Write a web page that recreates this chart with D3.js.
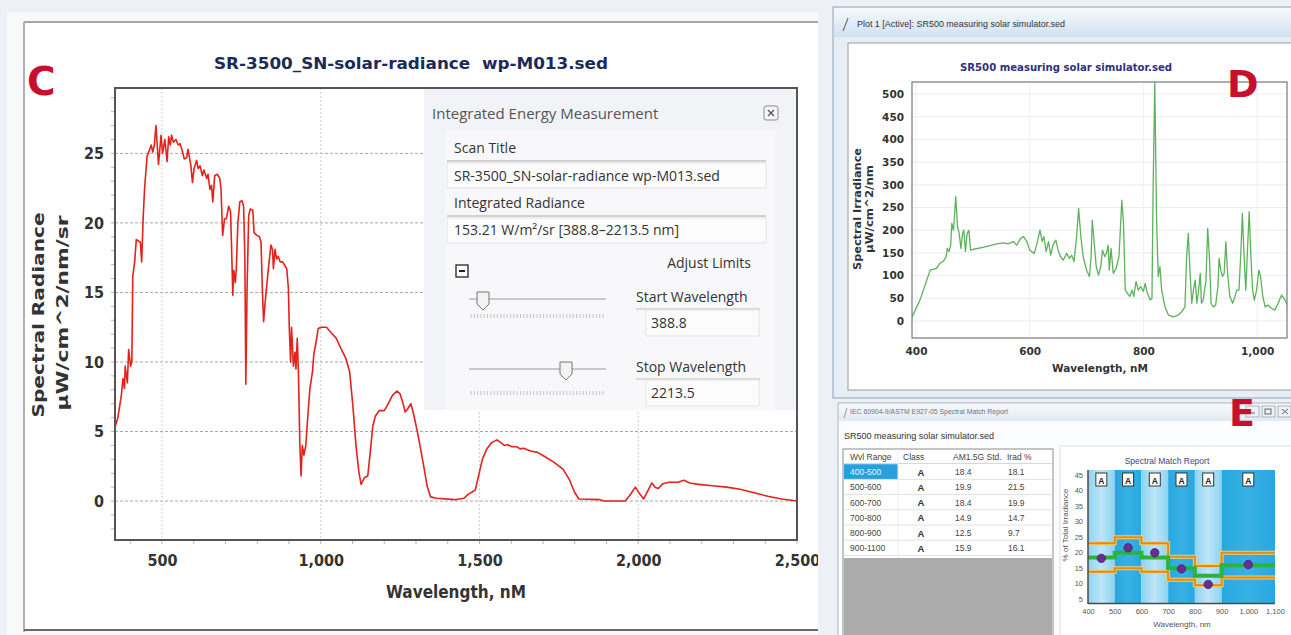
<!DOCTYPE html>
<html><head><meta charset="utf-8">
<script src="https://cdn.jsdelivr.net/npm/d3@7/dist/d3.min.js"></script>
<style>body{margin:0;background:#edf0f5;overflow:hidden} svg{display:block}</style>
</head><body><svg id="c" width="1291" height="635"></svg>
<script>
// ================= DATA =================
// Panel C : SR-3500 solar radiance
const wlC = [352,361,372,377,382,384,391,395,401,405,408,414,419,426,432,436,441,445,453,460,466,471,476,481,489,497,502,509,516,521,526,530,536,544,551,557,565,570,578,582,591,596,601,609,614,620,627,632,641,645,651,656,660,666,674,682,686,691,697,703,710,716,719,723,726,731,734,739,745,752,757,761,764,768,773,778,786,790,799,807,812,816,820,825,830,835,843,848,851,856,861,866,872,880,888,893,898,901,905,908,914,919,922,926,930,934,938,942,947,953,958,966,974,978,985,992,1002,1018,1033,1049,1065,1080,1091,1101,1111,1120,1127,1138,1148,1155,1164,1172,1184,1200,1210,1226,1240,1250,1257,1266,1273,1284,1294,1305,1315,1326,1335,1346,1364,1422,1451,1465,1477,1487,1497,1509,1523,1538,1555,1567,1578,1589,1603,1618,1628,1639,1661,1683,1705,1734,1763,1784,1799,1813,1879,1893,1959,1973,1991,2005,2017,2028,2043,2053,2063,2078,2096,2125,2144,2162,2190,2234,2278,2321,2365,2408,2452,2500];
const radC = [5.3,6.0,7.6,8.8,8.1,9.7,8.5,10.9,9.7,10.0,16.2,17.2,18.8,18.7,18.6,17.2,20.5,22.4,24.8,25.2,25.6,25.1,25.6,27.0,24.2,26.3,25.0,26.0,24.4,26.2,25.6,26.3,25.8,26.0,25.6,25.7,25.1,24.6,24.7,25.3,24.1,22.9,23.9,24.5,23.9,24.1,23.4,23.8,23.2,23.5,22.4,22.7,21.5,23.4,23.5,23.2,22.4,19.1,20.3,20.3,21.2,20.8,18.4,14.8,16.6,15.7,16.7,20.0,21.5,21.6,21.2,17.6,8.4,15.3,20.5,21.0,20.9,19.3,19.1,19.0,18.6,15.3,12.9,14.3,15.5,16.7,18.4,18.1,16.7,18.1,17.4,17.6,17.2,17.2,16.9,16.7,15.3,12.4,10.0,12.5,9.7,10.7,9.5,11.7,9.0,4.2,1.8,4.0,3.3,4.0,5.7,8.1,9.3,10.5,11.4,12.4,12.5,12.5,12.1,11.7,10.9,10.2,9.3,6.9,4.0,2.1,1.2,1.7,1.8,3.3,5.4,6.1,6.5,6.5,6.9,7.6,7.9,7.7,7.2,6.4,6.6,7.0,6.1,4.9,3.7,2.3,1.1,0.3,0.2,0.1,0.2,0.5,0.65,0.8,1.8,3.0,3.75,4.2,4.4,4.2,4.0,4.05,3.9,3.9,3.75,3.8,3.6,3.5,3.2,2.8,2.3,1.5,0.65,0.15,0.1,0.0,0.0,0.4,1.0,0.5,0.15,0.65,1.3,1.0,0.9,1.25,1.35,1.35,1.5,1.3,1.2,1.1,1.0,0.85,0.6,0.35,0.15,0.0];
const yTicksC = [0,5,10,15,20,25];
const xTicksC = [500,1000,1500,2000,2500];
const titleC = "SR-3500_SN-solar-radiance  wp-M013.sed";
const scanTitle = "SR-3500_SN-solar-radiance wp-M013.sed";
const integratedText = "153.21 W/m\u00B2/sr [388.8\u20132213.5 nm]";
const startWl = "388.8", stopWl = "2213.5";

// Panel D : SR500 measuring solar simulator
const wlD = [392,407,422,425,436,442,448,453,455,458,461,463,466,468,470,473,476,479,482,484,487,490,493,496,501,518,542,554,562,571,577,584,589,595,600,608,613,618,622,625,629,633,637,641,646,650,654,659,665,670,674,678,683,686,690,694,700,705,708,710,713,717,721,725,728,732,735,738,740,743,747,752,757,760,762,765,768,772,776,780,783,787,791,795,800,803,807,812,815,817,820,823,826,829,832,838,844,853,861,867,873,876,879,882,885,888,891,894,897,900,902,905,910,913,916,919,923,927,931,933,936,939,942,945,948,952,957,961,964,968,971,974,977,980,983,986,989,992,995,999,1003,1006,1010,1014,1019,1025,1031,1037,1043,1049,1053];
const irrD = [6,46,101,112,116,127,131,142,160,153,167,215,200,237,274,208,193,160,193,200,153,193,200,156,158,162,170,172,170,175,167,182,186,175,156,149,171,200,175,186,153,175,145,167,178,156,142,134,149,138,145,131,193,248,186,142,112,98,142,222,178,120,101,120,156,142,149,167,112,160,105,116,142,215,266,215,68,61,54,68,54,87,68,76,65,83,61,46,50,288,525,230,98,120,68,31,13,9,13,20,31,142,193,105,39,68,90,39,68,105,39,46,90,204,142,39,31,35,76,138,112,98,105,175,105,54,39,54,68,68,142,237,142,68,156,241,142,68,46,68,112,98,54,31,35,28,24,39,57,46,35];
const yTicksD = [0,50,100,150,200,250,300,350,400,450,500];
const xTicksD = [400,600,800,1000];

// Panel E : spectral match report
const bandRanges = ["400-500","500-600","600-700","700-800","800-900","900-1100"];
const bandEdges = [400,500,600,700,800,900,1100];
const bandCenters = [450,550,650,750,850,1000];
const bandClass = ["A","A","A","A","A","A"];
const am15gStd = [18.4,19.9,18.4,14.9,12.5,15.9];
const irradPct = [18.1,21.5,19.9,14.7,9.7,16.1];
const upperLimit = [23.0,24.9,23.0,18.6,15.6,19.9];
const lowerLimit = [13.8,14.9,13.8,11.2,9.4,11.9];
const yTicksE = [5,10,15,20,25,30,35,40,45];
const xTicksE = [400,500,600,700,800,900,1000,1100];

// ================= DRAW =================
const F_COND = "'DejaVu Sans Condensed','DejaVu Sans',sans-serif";
const F_VER = "'DejaVu Sans',sans-serif";
const F_UI = "'Open Sans','Liberation Sans',sans-serif";
const F_SM = "'Liberation Sans','Arial',sans-serif";
const RED = "#c8102e";

const svg = d3.select('#c');
const defs = svg.append('defs');
function vgrad(id, a, b){
  const g = defs.append('linearGradient').attr('id',id).attr('x1',0).attr('y1',0).attr('x2',0).attr('y2',1);
  g.append('stop').attr('offset','0%').attr('stop-color',a);
  g.append('stop').attr('offset','100%').attr('stop-color',b);
}
vgrad('tbar','#f6f9fd','#d2e1f1');
vgrad('tbar2','#f7f9fc','#e2eaf3');
function hgradBand(id, edge, mid){
  const g = defs.append('linearGradient').attr('id',id).attr('x1',0).attr('y1',0).attr('x2',1).attr('y2',0);
  g.append('stop').attr('offset','0%').attr('stop-color',edge);
  g.append('stop').attr('offset','50%').attr('stop-color',mid);
  g.append('stop').attr('offset','100%').attr('stop-color',edge);
}
hgradBand('bandL','#8dd3f1','#bde7f8');
hgradBand('bandD','#26a8e0','#38b1e5');

function text(g, x, y, s, o={}){
  const t = g.append('text').attr('x',x).attr('y',y).text(s)
    .attr('font-family',o.ff||F_UI).attr('font-size',o.fs||12)
    .attr('fill',o.fill||'#333');
  if(o.fw) t.attr('font-weight',o.fw);
  if(o.anchor) t.attr('text-anchor',o.anchor);
  if(o.tl) t.attr('textLength',o.tl).attr('lengthAdjust','spacingAndGlyphs');
  if(o.pre) t.style('white-space','pre');
  if(o.rot) t.attr('transform',`rotate(-90,${x},${y})`);
  return t;
}
function line(g,x1,y1,x2,y2,st,w,dash){
  const l = g.append('line').attr('x1',x1).attr('y1',y1).attr('x2',x2).attr('y2',y2)
    .attr('stroke',st).attr('stroke-width',w||1);
  if(dash) l.attr('stroke-dasharray',dash);
  return l;
}

svg.append('rect').attr('width',1291).attr('height',635).attr('fill','#edf0f5');

// ---------- Panel C ----------
defs.append('clipPath').attr('id','clipC').append('rect').attr('x',0).attr('y',0).attr('width',818).attr('height',635);
const C = svg.append('g').attr('clip-path','url(#clipC)');
C.append('rect').attr('x',7).attr('y',12).attr('width',815).attr('height',623).attr('fill','#f8f9fb');
C.append('rect').attr('x',24).attr('y',22).attr('width',800).attr('height',608).attr('fill','#fff');
line(C,24,22,822,22,'#8a8a8a',1.5);
line(C,24,22,24,632,'#b0b0b0',2);
line(C,24,630,822,630,'#6a6a6a',2);

const xC = d3.scaleLinear().domain([352,2500]).range([115,797]);
const yC = d3.scaleLinear().domain([-2.8,29.7]).range([540,88]);

text(C, 411, 69, titleC, {ff:F_COND, fs:16, fw:'bold', fill:'#1c2a5a', anchor:'middle', pre:true, tl:394});
text(C, 27, 95, 'C', {ff:F_VER, fs:39, fw:'bold', fill:RED});

// grid
yTicksC.forEach(v=>line(C,115,yC(v),797,yC(v),'#a8a8a8',1,'3,2'));
[500,1000,1500,2000].forEach(v=>line(C,xC(v),88,xC(v),540,'#d0d0d0',1,'2,2'));
// minor ticks
d3.range(-2,30,1).forEach(v=>line(C,111,yC(v),115,yC(v),'#b5b5b5',1));
d3.range(400,2501,100).forEach(v=>line(C,xC(v),540,xC(v),544,'#b5b5b5',1));

// axes
const ayC = C.append('g').attr('transform','translate(115,0)')
  .call(d3.axisLeft(yC).tickValues(yTicksC).tickSize(0).tickPadding(11));
const axC = C.append('g').attr('transform','translate(0,540)')
  .call(d3.axisBottom(xC).tickValues(xTicksC).tickFormat(d3.format(',')).tickSize(0).tickPadding(15));
[ayC,axC].forEach(a=>{a.select('.domain').remove();
  a.selectAll('text').attr('font-family',F_COND).attr('font-size',16).attr('font-weight','bold').attr('fill','#333');});

// curve
C.append('path').datum(d3.range(wlC.length))
  .attr('d', d3.line().x(i=>xC(wlC[i])).y(i=>yC(radC[i])))
  .attr('fill','none').attr('stroke','#e3221b').attr('stroke-width',1.6).attr('stroke-linejoin','round');

// axis titles
text(C, 456, 598, 'Wavelength, nM', {ff:F_COND, fs:17, fw:'bold', fill:'#333', anchor:'middle'});
text(C, 44, 315, 'Spectral Radiance', {ff:F_VER, fs:16, fw:'bold', fill:'#333', anchor:'middle', rot:true, tl:205});
text(C, 68, 313, '\u00B5W/cm^2/nm/sr', {ff:F_VER, fs:16, fw:'bold', fill:'#333', anchor:'middle', rot:true, tl:195});

// overlay: Integrated Energy Measurement
const O = C.append('g');
O.append('rect').attr('x',424).attr('y',89).attr('width',373).attr('height',321).attr('fill','#f2f3f6');
O.append('rect').attr('x',445).attr('y',130).attr('width',330).attr('height',280).attr('fill','#f8f8fa');
text(O, 432, 119, 'Integrated Energy Measurement', {fs:15, fill:'#555'});
O.append('rect').attr('x',764).attr('y',106).attr('width',14).attr('height',14).attr('rx',2).attr('fill','#f6f6f6').attr('stroke','#8a8a8a');
line(O,768,110,774,116,'#555',1.2); line(O,774,110,768,116,'#555',1.2);
text(O, 454, 153, 'Scan Title', {fs:14});
line(O,447,161,766,161,'#a8a8a8',1);
O.append('rect').attr('x',447).attr('y',163).attr('width',319).attr('height',25).attr('fill','#fcfcfc').attr('stroke','#e4e4e4');
text(O, 454, 181, scanTitle, {fs:14});
text(O, 454, 208, 'Integrated Radiance', {fs:14});
line(O,447,216,766,216,'#a8a8a8',1);
O.append('rect').attr('x',447).attr('y',218).attr('width',319).attr('height',25).attr('fill','#fcfcfc').attr('stroke','#e4e4e4');
text(O, 454, 235, integratedText, {fs:14});
text(O, 751, 268, 'Adjust Limits', {fs:14, anchor:'end'});
O.append('rect').attr('x',456).attr('y',265).attr('width',12).attr('height',12).attr('fill','#fff').attr('stroke','#222').attr('stroke-width',1.3);
line(O,459,271,465,271,'#222',2);
function slider(ty, thumbX, label, val, tickY){
  line(O,469,ty,606,ty,'#9a9a9a',1);
  d3.range(471,606,3.3).forEach(x=>line(O,x,tickY,x,tickY+4,'#c4c4c4',1));
  O.append('path').attr('d',`M${thumbX-6},${ty-7} h12 v12 l-6,6 l-6,-6 z`)
    .attr('fill','#f3f3f3').attr('stroke','#777').attr('stroke-width',1);
  text(O, 636, ty+3, label, {fs:14});
  line(O,636,ty+10,760,ty+10,'#bdbdbd',1);
  O.append('rect').attr('x',646).attr('y',ty+11).attr('width',113).attr('height',26).attr('fill','#fcfcfc').attr('stroke','#e4e4e4');
  text(O, 651, ty+29, val, {fs:14});
}
slider(299, 483, 'Start Wavelength', startWl, 314);
slider(369, 566, 'Stop Wavelength', stopWl, 391);

// plot frame
C.append('rect').attr('x',115).attr('y',88).attr('width',682).attr('height',452)
  .attr('fill','none').attr('stroke','#555').attr('stroke-width',2);

// ---------- Panel D ----------
const D = svg.append('g');
D.append('rect').attr('x',833).attr('y',7).attr('width',470).attr('height',391).attr('fill','#e8eef6').attr('stroke','#8fa3b9');
D.append('rect').attr('x',834).attr('y',8).attr('width',468).attr('height',29).attr('fill','url(#tbar)');
line(D,843,31,848,18,'#777',1.2);
text(D, 857, 27, 'Plot 1 [Active]: SR500 measuring solar simulator.sed', {ff:F_SM, fs:8.6, fill:'#333', tl:208});
D.append('rect').attr('x',848).attr('y',43).attr('width',460).attr('height',347).attr('fill','#fff').attr('stroke','#9a9a9a');

const xD = d3.scaleLinear().domain([393,1052.5]).range([912,1287]);
const yD = d3.scaleLinear().domain([-37.5,526.5]).range([338,82]);
yTicksD.forEach(v=>line(D,912,yD(v),1287,yD(v),'#ececec',1));
xTicksD.forEach(v=>line(D,xD(v),82,xD(v),338,'#f0f0f0',1));
defs.append('clipPath').attr('id','clipD').append('rect').attr('x',912).attr('y',82).attr('width',375).attr('height',256);
D.append('path').datum(d3.range(wlD.length)).attr('clip-path','url(#clipD)')
  .attr('d', d3.line().x(i=>xD(wlD[i])).y(i=>yD(irrD[i])))
  .attr('fill','none').attr('stroke','#5cb25c').attr('stroke-width',1.3).attr('stroke-linejoin','round');
D.append('rect').attr('x',912).attr('y',82).attr('width',375).attr('height',256).attr('fill','none').attr('stroke','#777').attr('stroke-width',1.2);
const ayD = D.append('g').attr('transform','translate(912,0)')
  .call(d3.axisLeft(yD).tickValues(yTicksD).tickSize(0).tickPadding(8));
const axD = D.append('g').attr('transform','translate(0,338)')
  .call(d3.axisBottom(xD).tickValues(xTicksD).tickFormat(d3.format(',')).tickSize(0).tickPadding(10));
[ayD,axD].forEach(a=>{a.select('.domain').remove();
  a.selectAll('text').attr('font-family',F_VER).attr('font-size',10.5).attr('font-weight','bold').attr('fill','#333');});
text(D, 1066, 71, 'SR500 measuring solar simulator.sed', {ff:F_VER, fs:11, fw:'bold', fill:'#2e3180', anchor:'middle', tl:212});
text(D, 1100, 372, 'Wavelength, nM', {ff:F_VER, fs:10.5, fw:'bold', fill:'#333', anchor:'middle'});
text(D, 861, 209, 'Spectral Irradiance', {ff:F_VER, fs:10, fw:'bold', fill:'#333', anchor:'middle', rot:true, tl:122});
text(D, 873, 209, '\u00B5W/cm^2/nm', {ff:F_VER, fs:10, fw:'bold', fill:'#333', anchor:'middle', rot:true, tl:88});
text(D, 1227, 97, 'D', {ff:F_VER, fs:38, fw:'bold', fill:RED});

// ---------- Panel E ----------
const E = svg.append('g');
E.append('rect').attr('x',838).attr('y',403).attr('width',465).attr('height',240).attr('fill','#fbfcfd').attr('stroke','#a3b2c4');
E.append('rect').attr('x',839).attr('y',404).attr('width',463).attr('height',17).attr('fill','url(#tbar2)');
line(E,844,418,847,408,'#999',1);
text(E, 850, 414, 'IEC 60904-9/ASTM E927-05 Spectral Match Report', {ff:F_SM, fs:7.2, fill:'#6a7384', tl:158});
[1246,1262,1278].forEach((x,i)=>{
  E.append('rect').attr('x',x).attr('y',406).attr('width',13).attr('height',11).attr('fill','#eef2f7').attr('stroke','#a9b4c2');
});
line(E,1249,413,1255,413,'#666',1);
E.append('rect').attr('x',1265).attr('y',409).attr('width',6).attr('height',5).attr('fill','none').attr('stroke','#666');
line(E,1282,409,1288,414,'#666',1); line(E,1288,409,1282,414,'#666',1);
text(E, 844, 439, 'SR500 measuring solar simulator.sed', {ff:F_SM, fs:9, fill:'#333', tl:150});

// table
E.append('rect').attr('x',843).attr('y',449).attr('width',210).attr('height',195).attr('fill','#fff').attr('stroke','#8c8c8c');
E.append('rect').attr('x',844).attr('y',558).attr('width',208).attr('height',85).attr('fill','#ababab');
const rowH = 15.2, row0 = 464.2;
const colX = [850, 903, 953, 1007];
const hdr = ['Wvl Range','Class','AM1.5G Std.','Irad %'];
hdr.forEach((h,i)=>text(E, colX[i], 460, h, {ff:F_SM, fs:8.5, fill:'#444'}));
line(E,844,463.5,1052,463.5,'#d8d8d8',1);
bandRanges.forEach((r,i)=>{
  const y = row0 + i*rowH;
  if(i===0) E.append('rect').attr('x',844).attr('y',y).attr('width',54).attr('height',rowH).attr('fill','#2a9fdf');
  line(E,844,y+rowH,1052,y+rowH,'#e2e2e2',1);
  text(E, colX[0], y+11, r, {ff:F_SM, fs:8.5, fill: i===0 ? '#e8f4fc' : '#444'});
  text(E, 921, y+11.5, bandClass[i], {ff:F_SM, fs:9.5, fw:'bold', fill:'#333', anchor:'middle'});
  text(E, 955, y+11, d3.format('.1f')(am15gStd[i]), {ff:F_SM, fs:8.5, fill:'#444'});
  text(E, 1008, y+11, d3.format('.1f')(irradPct[i]), {ff:F_SM, fs:8.5, fill:'#444'});
});
line(E,898,449,898,558,'#ececec',1);

// chart
E.append('rect').attr('x',1060).attr('y',446).attr('width',240).attr('height',200).attr('fill','#fff').attr('stroke','#dedede');
const xE = d3.scaleLinear().domain([400,1100]).range([1088,1275]);
const yE = d3.scaleLinear().domain([3.7,46.6]).range([603,470]);
bandCenters.forEach((c,i)=>{
  E.append('rect').attr('x',xE(bandEdges[i])).attr('y',470)
    .attr('width',xE(bandEdges[i+1])-xE(bandEdges[i])).attr('height',133)
    .attr('fill', i%2===0 ? 'url(#bandL)' : 'url(#bandD)');
});
const stepPts = vals => bandEdges.map((e,i)=>[e, vals[Math.min(i,vals.length-1)]]);
const stepLine = d3.line().x(d=>xE(d[0])).y(d=>yE(d[1])).curve(d3.curveStepAfter);
[upperLimit, lowerLimit].forEach(v=>{
  E.append('path').attr('d',stepLine(stepPts(v))).attr('fill','none').attr('stroke','#f6cf6e').attr('stroke-width',4);
  E.append('path').attr('d',stepLine(stepPts(v))).attr('fill','none').attr('stroke','#e38a12').attr('stroke-width',2);
});
E.append('path').attr('d',stepLine(stepPts(am15gStd))).attr('fill','none').attr('stroke','#2cb33a').attr('stroke-width',4);
E.selectAll('circle.m').data(bandCenters).enter().append('circle')
  .attr('cx',d=>xE(d)).attr('cy',(d,i)=>yE(irradPct[i])).attr('r',4.2)
  .attr('fill','#6b2d8f').attr('stroke','#3d1f73').attr('stroke-width',0.8);
bandCenters.forEach((c,i)=>{
  E.append('rect').attr('x',xE(c)-5.5).attr('y',473).attr('width',11).attr('height',13)
    .attr('fill','#fff').attr('stroke','#333').attr('stroke-width',1);
  text(E, xE(c), 483.5, bandClass[i], {ff:F_SM, fs:8.5, fw:'bold', fill:'#222', anchor:'middle'});
});
line(E,1088,470,1088,604,'#4a4a4a',1.5);
line(E,1088,603.5,1275,603.5,'#4a4a4a',1.5);
const ayE = E.append('g').attr('transform','translate(1088,0)')
  .call(d3.axisLeft(yE).tickValues(yTicksE).tickSize(0).tickPadding(5));
const axE = E.append('g').attr('transform','translate(0,604)')
  .call(d3.axisBottom(xE).tickValues(xTicksE).tickFormat(d3.format(',')).tickSize(0).tickPadding(5));
[ayE,axE].forEach(a=>{a.select('.domain').remove();
  a.selectAll('text').attr('font-family',F_SM).attr('font-size',7.5).attr('fill','#555');});
text(E, 1167, 464, 'Spectral Match Report', {ff:F_SM, fs:8.5, fill:'#3b3f93', anchor:'middle'});
text(E, 1182, 627, 'Wavelength, nm', {ff:F_SM, fs:8, fill:'#555', anchor:'middle'});
text(E, 1068, 525, '% of Total Irradiance', {ff:F_SM, fs:8, fill:'#555', anchor:'middle', rot:true});
text(E, 1229, 426, 'E', {ff:F_VER, fs:38, fw:'bold', fill:RED});
</script></body></html>
